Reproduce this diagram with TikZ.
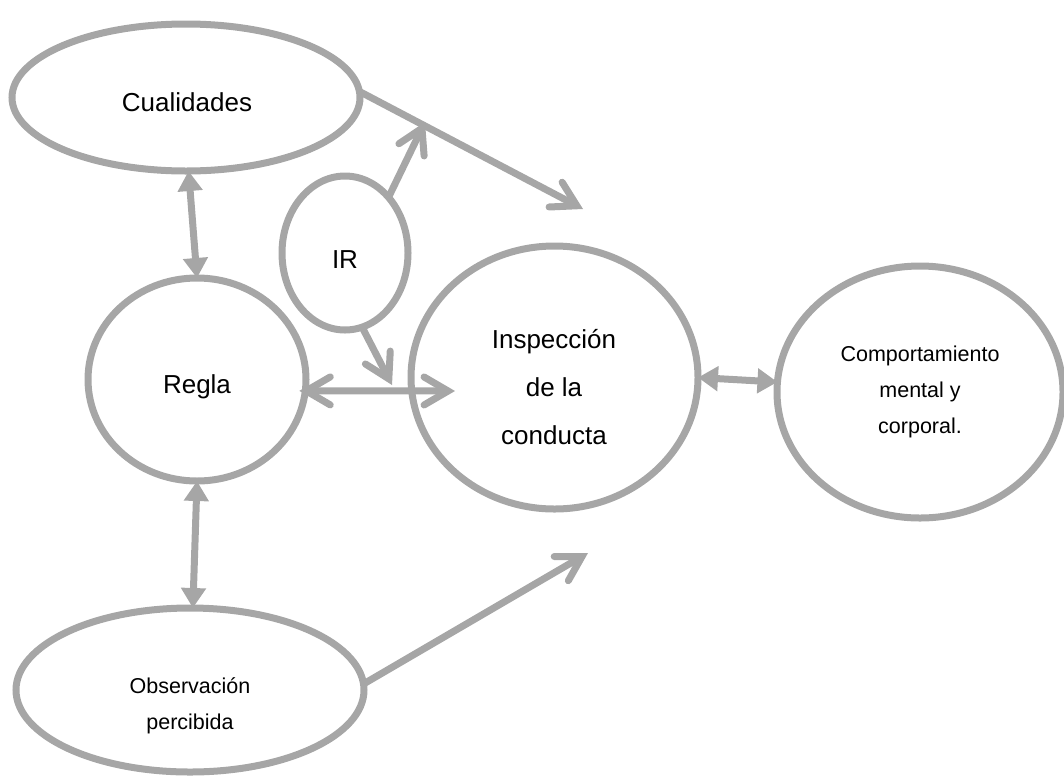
\documentclass[tikz,border=0pt]{standalone}
\usepackage{fontspec}
\setmainfont{Liberation Sans}
\usetikzlibrary{arrows.meta,shapes.geometric}
\definecolor{lg}{HTML}{A6A6A6}
\begin{document}
\begin{tikzpicture}[x=1pt,y=-1pt,
  shp/.style={ellipse,draw=lg,line width=7pt,inner sep=0pt,outer sep=0pt},
  conn/.style={draw=lg,line width=7pt},
  barbend/.style={-{Straight Barb[length=24pt,width=28pt,line cap=round]}},
  barbboth/.style={{Straight Barb[length=24pt,width=28pt,line cap=round]}-{Straight Barb[length=24pt,width=28pt,line cap=round]}},
  triboth/.style={{Triangle[length=20pt,width=24pt]}-{Triangle[length=20pt,width=24pt]}},
  big/.style={font=\fontsize{26}{48}\selectfont,align=center,inner sep=0pt},
  small/.style={font=\fontsize{21.5}{36}\selectfont,align=center,inner sep=0pt}
]
\useasboundingbox (0,0) rectangle (1064,777);
% shapes
\node[shp,minimum width=348pt,minimum height=147pt] (Cual) at (186,97.5) {};
\node[shp,minimum width=218pt,minimum height=203pt] (Regla) at (197,379.5) {};
\node[shp,minimum width=126pt,minimum height=154pt] (IR) at (345,253) {};
\node[shp,minimum width=287pt,minimum height=263pt] (Insp) at (554.5,377.5) {};
\node[shp,minimum width=286pt,minimum height=252pt] (Comp) at (920,392) {};
\node[shp,minimum width=348pt,minimum height=164pt] (Obs) at (190,690) {};
% texts
\node[big] (tCual) at (187,102) {Cualidades};
\node[big] (tRegla) at (197,387) {Regla};
\node[big] (tIR) at (345,260) {IR};
\node[big] (tInsp) at (554,387) {Inspección\\de la\\conducta};
\node[small] (tComp) at (920,392) {Comportamiento\\mental y\\corporal.};
\node[small] (tObs) at (190,706) {Observación\\percibida};
% free ends
\coordinate (c1) at (583,209);
\coordinate (c2) at (425,122);
\coordinate (c3) at (392,385);
\coordinate (c4) at (455,391);
\coordinate (c8) at (588,553);
% connectors
\draw[conn,barbend] (Cual.2) -- (c1);
\draw[conn,barbend] (IR.52) -- (c2);
\draw[conn,barbend] (IR.-77) -- (c3);
\draw[conn,barbboth,shorten <=-6pt] (Regla.-6) -- (c4);
\draw[conn,triboth] (Insp.east) -- (Comp.176);
\draw[conn,triboth] (Cual.-88) -- (Regla.north);
\draw[conn,triboth] (Regla.south) -- (Obs.88);
\draw[conn,barbend] (Obs.2) -- (c8);
\end{tikzpicture}
\end{document}
